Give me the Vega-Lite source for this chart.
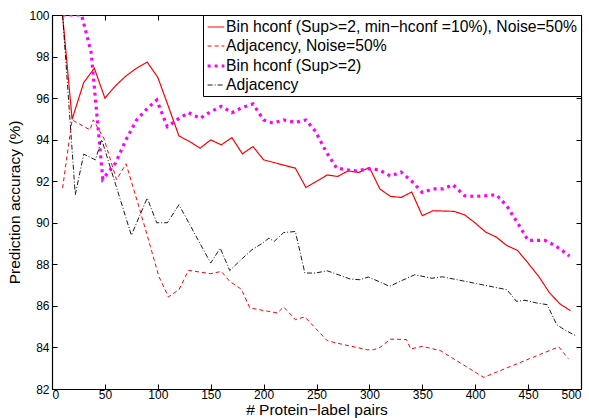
{
  "$schema": "https://vega.github.io/schema/vega-lite/v6.json",
  "width": 529,
  "height": 374,
  "autosize": "none",
  "padding": {"left": 52, "top": 15, "right": 8, "bottom": 29},
  "config": {
    "font": "Liberation Sans",
    "view": {"stroke": "black", "strokeWidth": 1},
    "axis": {"grid": false, "domainColor": "black", "tickColor": "black", "labelColor": "black", "titleColor": "black", "labelFontSize": 12, "titleFontSize": 15.5, "titleFontWeight": "normal", "tickSize": -5, "domainWidth": 1.2}
  },
  "data": {"values": [
    {"s": "A", "x": 10, "y": 100}, {"s": "A", "x": 19, "y": 94.98}, {"s": "A", "x": 30, "y": 96.75}, {"s": "A", "x": 40, "y": 97.44}, {"s": "A", "x": 50, "y": 96.0}, {"s": "A", "x": 60, "y": 96.59}, {"s": "A", "x": 70, "y": 97.07}, {"s": "A", "x": 80, "y": 97.44}, {"s": "A", "x": 90, "y": 97.73}, {"s": "A", "x": 100, "y": 97.0}, {"s": "A", "x": 110, "y": 95.6}, {"s": "A", "x": 120, "y": 94.18}, {"s": "A", "x": 130, "y": 93.91}, {"s": "A", "x": 140, "y": 93.59}, {"s": "A", "x": 150, "y": 93.99}, {"s": "A", "x": 160, "y": 93.75}, {"s": "A", "x": 170, "y": 94.1}, {"s": "A", "x": 180, "y": 93.32}, {"s": "A", "x": 190, "y": 93.67}, {"s": "A", "x": 200, "y": 93.03}, {"s": "A", "x": 230, "y": 92.63}, {"s": "A", "x": 240, "y": 91.7}, {"s": "A", "x": 250, "y": 91.99}, {"s": "A", "x": 260, "y": 92.3}, {"s": "A", "x": 270, "y": 92.23}, {"s": "A", "x": 280, "y": 92.5}, {"s": "A", "x": 290, "y": 92.42}, {"s": "A", "x": 300, "y": 92.66}, {"s": "A", "x": 310, "y": 91.62}, {"s": "A", "x": 320, "y": 91.27}, {"s": "A", "x": 330, "y": 91.22}, {"s": "A", "x": 340, "y": 91.48}, {"s": "A", "x": 350, "y": 90.34}, {"s": "A", "x": 360, "y": 90.58}, {"s": "A", "x": 380, "y": 90.55}, {"s": "A", "x": 390, "y": 90.38}, {"s": "A", "x": 400, "y": 89.99}, {"s": "A", "x": 410, "y": 89.55}, {"s": "A", "x": 420, "y": 89.31}, {"s": "A", "x": 430, "y": 88.9}, {"s": "A", "x": 440, "y": 88.67}, {"s": "A", "x": 450, "y": 88.06}, {"s": "A", "x": 460, "y": 87.42}, {"s": "A", "x": 470, "y": 86.65}, {"s": "A", "x": 480, "y": 86.1}, {"s": "A", "x": 490, "y": 85.77},

    {"s": "B", "x": 10, "y": 91.67}, {"s": "B", "x": 19, "y": 94.95}, {"s": "B", "x": 36, "y": 94.47}, {"s": "B", "x": 39, "y": 94.95}, {"s": "B", "x": 49, "y": 94.07}, {"s": "B", "x": 61, "y": 92.07}, {"s": "B", "x": 70, "y": 92.84}, {"s": "B", "x": 82, "y": 90.8}, {"s": "B", "x": 93, "y": 88.86}, {"s": "B", "x": 101, "y": 87.42}, {"s": "B", "x": 110, "y": 86.43}, {"s": "B", "x": 120, "y": 86.78}, {"s": "B", "x": 129, "y": 87.71}, {"s": "B", "x": 150, "y": 87.55}, {"s": "B", "x": 160, "y": 87.66}, {"s": "B", "x": 168, "y": 87.18}, {"s": "B", "x": 179, "y": 86.8}, {"s": "B", "x": 187, "y": 85.9}, {"s": "B", "x": 213, "y": 85.66}, {"s": "B", "x": 219, "y": 85.95}, {"s": "B", "x": 230, "y": 85.34}, {"s": "B", "x": 239, "y": 85.47}, {"s": "B", "x": 260, "y": 84.33}, {"s": "B", "x": 270, "y": 84.2}, {"s": "B", "x": 298, "y": 83.89}, {"s": "B", "x": 304, "y": 83.89}, {"s": "B", "x": 310, "y": 84.0}, {"s": "B", "x": 320, "y": 84.4}, {"s": "B", "x": 335, "y": 84.38}, {"s": "B", "x": 339, "y": 83.93}, {"s": "B", "x": 350, "y": 84.05}, {"s": "B", "x": 367, "y": 83.85}, {"s": "B", "x": 408, "y": 82.56}, {"s": "B", "x": 479, "y": 84.03}, {"s": "B", "x": 488, "y": 83.46},

    {"s": "C", "x": 10, "y": 100}, {"s": "C", "x": 20, "y": 100}, {"s": "C", "x": 28, "y": 100}, {"s": "C", "x": 37, "y": 98.2}, {"s": "C", "x": 48, "y": 92.1}, {"s": "C", "x": 60, "y": 92.87}, {"s": "C", "x": 70, "y": 94.0}, {"s": "C", "x": 80, "y": 94.95}, {"s": "C", "x": 90, "y": 95.5}, {"s": "C", "x": 99, "y": 95.91}, {"s": "C", "x": 109, "y": 94.63}, {"s": "C", "x": 118, "y": 94.95}, {"s": "C", "x": 129, "y": 95.3}, {"s": "C", "x": 140, "y": 95.03}, {"s": "C", "x": 150, "y": 95.35}, {"s": "C", "x": 160, "y": 95.6}, {"s": "C", "x": 170, "y": 95.3}, {"s": "C", "x": 180, "y": 95.55}, {"s": "C", "x": 190, "y": 95.72}, {"s": "C", "x": 200, "y": 94.95}, {"s": "C", "x": 209, "y": 94.8}, {"s": "C", "x": 219, "y": 94.95}, {"s": "C", "x": 230, "y": 94.83}, {"s": "C", "x": 240, "y": 94.95}, {"s": "C", "x": 249, "y": 94.4}, {"s": "C", "x": 259, "y": 93.43}, {"s": "C", "x": 269, "y": 92.63}, {"s": "C", "x": 279, "y": 92.55}, {"s": "C", "x": 288, "y": 92.5}, {"s": "C", "x": 299, "y": 92.6}, {"s": "C", "x": 309, "y": 92.55}, {"s": "C", "x": 320, "y": 92.25}, {"s": "C", "x": 330, "y": 92.44}, {"s": "C", "x": 340, "y": 92.0}, {"s": "C", "x": 350, "y": 91.46}, {"s": "C", "x": 360, "y": 91.63}, {"s": "C", "x": 370, "y": 91.63}, {"s": "C", "x": 379, "y": 91.83}, {"s": "C", "x": 390, "y": 91.3}, {"s": "C", "x": 400, "y": 91.27}, {"s": "C", "x": 410, "y": 91.3}, {"s": "C", "x": 420, "y": 91.35}, {"s": "C", "x": 430, "y": 90.8}, {"s": "C", "x": 440, "y": 90.0}, {"s": "C", "x": 450, "y": 89.15}, {"s": "C", "x": 466, "y": 89.15}, {"s": "C", "x": 472, "y": 89.0}, {"s": "C", "x": 480, "y": 88.75}, {"s": "C", "x": 489, "y": 88.4},

    {"s": "D", "x": 10, "y": 100}, {"s": "D", "x": 22, "y": 91.35}, {"s": "D", "x": 30, "y": 93.3}, {"s": "D", "x": 41, "y": 93.03}, {"s": "D", "x": 47, "y": 94.0}, {"s": "D", "x": 75, "y": 89.4}, {"s": "D", "x": 90, "y": 91.19}, {"s": "D", "x": 99, "y": 90.0}, {"s": "D", "x": 109, "y": 90.0}, {"s": "D", "x": 120, "y": 90.87}, {"s": "D", "x": 150, "y": 88.06}, {"s": "D", "x": 159, "y": 88.78}, {"s": "D", "x": 168, "y": 87.7}, {"s": "D", "x": 179, "y": 88.24}, {"s": "D", "x": 189, "y": 88.7}, {"s": "D", "x": 199, "y": 89.02}, {"s": "D", "x": 205, "y": 89.26}, {"s": "D", "x": 210, "y": 89.1}, {"s": "D", "x": 219, "y": 89.53}, {"s": "D", "x": 230, "y": 89.58}, {"s": "D", "x": 239, "y": 87.58}, {"s": "D", "x": 249, "y": 87.58}, {"s": "D", "x": 260, "y": 87.69}, {"s": "D", "x": 269, "y": 87.53}, {"s": "D", "x": 282, "y": 87.29}, {"s": "D", "x": 291, "y": 87.26}, {"s": "D", "x": 299, "y": 87.39}, {"s": "D", "x": 310, "y": 87.15}, {"s": "D", "x": 319, "y": 86.94}, {"s": "D", "x": 329, "y": 87.18}, {"s": "D", "x": 343, "y": 87.5}, {"s": "D", "x": 359, "y": 87.33}, {"s": "D", "x": 369, "y": 87.4}, {"s": "D", "x": 430, "y": 86.78}, {"s": "D", "x": 439, "y": 86.22}, {"s": "D", "x": 447, "y": 86.27}, {"s": "D", "x": 458, "y": 86.14}, {"s": "D", "x": 468, "y": 86.06}, {"s": "D", "x": 477, "y": 85.1}, {"s": "D", "x": 484, "y": 84.86}, {"s": "D", "x": 496, "y": 84.54}
  ]},
  "transform": [
    {"lookup": "s", "from": {"data": {"values": [
      {"s": "A", "label": "Bin hconf (Sup>=2, min−hconf =10%), Noise=50%"},
      {"s": "B", "label": "Adjacency, Noise=50%"},
      {"s": "C", "label": "Bin hconf (Sup>=2)"},
      {"s": "D", "label": "Adjacency"}
    ]}, "key": "s", "fields": ["label"]}}
  ],
  "resolve": {"axis": {"x": "independent", "y": "independent"}},
  "layer": [
    {
      "mark": {"type": "line", "strokeCap": "butt", "clip": true},
      "encoding": {
        "x": {"field": "x", "type": "quantitative", "scale": {"domain": [0, 500], "nice": false}, "axis": {"orient": "bottom", "values": [0, 50, 100, 150, 200, 250, 300, 350, 400, 450, 500], "labelPadding": 5, "title": "# Protein−label pairs", "titlePadding": 2}},
        "y": {"field": "y", "type": "quantitative", "scale": {"domain": [82, 100], "nice": false, "zero": false}, "axis": {"orient": "left", "values": [82, 84, 86, 88, 90, 92, 94, 96, 98, 100], "labelPadding": 8, "title": "Prediction accuracy (%)", "titlePadding": 6}},
        "color": {"field": "label", "type": "nominal", "scale": {"domain": ["Bin hconf (Sup>=2, min−hconf =10%), Noise=50%", "Adjacency, Noise=50%", "Bin hconf (Sup>=2)", "Adjacency"], "range": ["#ff0000", "#ff0000", "#ff00ff", "#000000"]}, "legend": {"title": null, "orient": "top-right", "offset": 0, "strokeColor": "black", "fillColor": "white", "padding": 3, "labelFontSize": 15.7, "labelLimit": 500, "symbolType": "stroke", "symbolSize": 280, "rowPadding": 2, "labelOffset": 0, "cornerRadius": 0}},
        "strokeDash": {"field": "label", "type": "nominal", "scale": {"domain": ["Bin hconf (Sup>=2, min−hconf =10%), Noise=50%", "Adjacency, Noise=50%", "Bin hconf (Sup>=2)", "Adjacency"], "range": [[1, 0], [4, 3], [3, 4], [5, 2, 1, 2]]}, "legend": {"title": null}},
        "strokeWidth": {"field": "label", "type": "nominal", "scale": {"type": "ordinal", "domain": ["Bin hconf (Sup>=2, min−hconf =10%), Noise=50%", "Adjacency, Noise=50%", "Bin hconf (Sup>=2)", "Adjacency"], "range": [1.2, 1, 3.2, 0.9]}, "legend": {"title": null}}
      }
    },
    {
      "mark": {"type": "line", "opacity": 0},
      "encoding": {
        "x": {"field": "x", "type": "quantitative", "axis": {"orient": "top", "values": [0, 50, 100, 150, 200, 250, 300, 350, 400, 450, 500], "labels": false, "title": null}},
        "y": {"field": "y", "type": "quantitative", "axis": {"orient": "right", "values": [82, 84, 86, 88, 90, 92, 94, 96, 98, 100], "labels": false, "title": null}},
        "detail": {"field": "s"}
      }
    }
  ]
}
